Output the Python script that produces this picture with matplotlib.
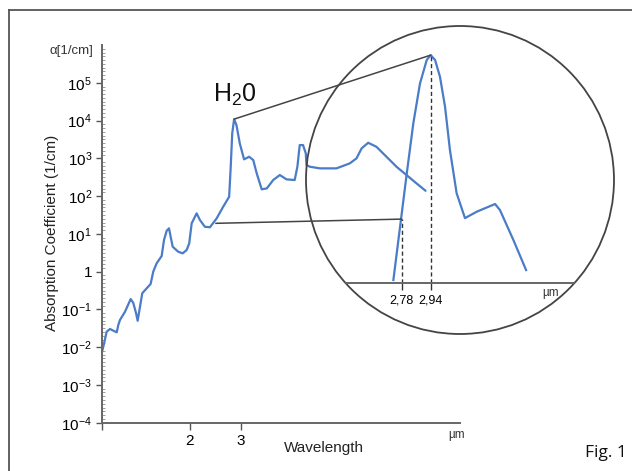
import numpy as np
import matplotlib
matplotlib.use('Agg')
import matplotlib.pyplot as plt
from matplotlib.patches import Circle, ConnectionPatch
from matplotlib.lines import Line2D
from matplotlib.ticker import FixedLocator, NullLocator, NullFormatter

plt.rcParams['font.family'] = ['Liberation Sans', 'DejaVu Sans']
plt.rcParams['mathtext.fontset'] = 'custom'
plt.rcParams['mathtext.rm'] = 'Liberation Sans'
plt.rcParams['mathtext.it'] = 'Liberation Sans:italic'

# main spectrum (wavelength in um, absorption coefficient in 1/cm)
wl_main = [1.000, 1.013, 1.040, 1.068, 1.096, 1.126, 1.140, 1.155, 1.202, 1.257,
           1.283, 1.311, 1.328, 1.353, 1.377, 1.426, 1.471, 1.502, 1.543, 1.605,
           1.635, 1.670, 1.701, 1.723, 1.751, 1.829, 1.894, 1.955, 1.995, 2.034,
           2.115, 2.171, 2.257, 2.349, 2.478, 2.608, 2.734, 2.768, 2.801, 2.843,
           2.896, 2.973, 3.075, 3.201, 3.306, 3.398, 3.535, 3.680, 3.870, 4.078,
           4.298, 4.585, 4.684, 4.771, 4.898, 5.005, 5.033, 5.170, 5.598, 6.378,
           7.086, 7.468, 7.776, 8.190, 8.74, 9.46, 10.24, 11.08, 11.99, 12.88]
alpha_main = [0.0070, 0.0103, 0.0257, 0.0303, 0.0273, 0.0247, 0.0386, 0.0524, 0.0868, 0.188,
              0.148, 0.080, 0.050, 0.118, 0.267, 0.361, 0.470, 1.0, 1.66, 2.59,
              6.86, 12.1, 14.0, 8.39, 4.56, 3.36, 3.05, 3.73, 5.61, 19.0,
              34.9, 23.2, 15.4, 14.9, 25.8, 52.2, 96, 598, 4580, 10900,
              7590, 2490, 938, 1100, 900, 400, 151, 160, 266, 361,
              277, 266, 598, 2240, 2240, 1350, 663, 598, 542, 542,
              736, 997, 1835, 2580, 2020, 1100, 598, 361, 217, 138]

# zoomed H2O band
wl_zoom = [2.734, 2.771, 2.808, 2.844, 2.881, 2.918, 2.94, 2.964, 2.991, 3.019,
           3.046, 3.083, 3.129, 3.194, 3.295, 3.322, 3.396, 3.466]
alpha_zoom = [0.012, 0.31, 8, 168, 1920, 7950, 10700, 7950, 2870, 461,
              33, 2.36, 0.52, 0.77, 1.23, 0.85, 0.137, 0.022]

y_ticks = [1e-4, 1e-3, 1e-2, 1e-1, 1, 1e1, 1e2, 1e3, 1e4, 1e5]
y_labels = ['10$^{-4}$', '10$^{-3}$', '10$^{-2}$', '10$^{-1}$', '1',
            '10$^{1}$', '10$^{2}$', '10$^{3}$', '10$^{4}$', '10$^{5}$']
x_ticks = [1, 2, 3]
x_labels = ['', '2', '3']
zoom_ticks = [2.78, 2.94]
zoom_labels = ['2,78', '2,94']
zoom_base = 0.01

main_peak = (2.843, 10900)
low_start = (2.46, 19)
zoom_peak = (2.94, 10700)
zoom_shoulder = (2.78, 0.49)

blue = '#4a7cc8'
grey = '#444444'

W, H = 632, 471
fig = plt.figure(figsize=(W / 100, H / 100), dpi=100)

# page frame (top + left only)
fig.add_artist(Line2D([8.5 / W, 1], [1 - 9.5 / H, 1 - 9.5 / H], transform=fig.transFigure,
                      color='#555555', lw=1.3))
fig.add_artist(Line2D([8.5 / W, 8.5 / W], [0, 1 - 9.5 / H], transform=fig.transFigure,
                      color='#555555', lw=1.3))

ax = fig.add_axes([101.7 / W, 1 - 422.7 / H, (460 - 101.7) / W, (422.7 - 45) / H])
ax.patch.set_alpha(0)
ax.set_xscale('log')
ax.set_yscale('log')
ax.set_xlim(1, 16.9)
ax.set_ylim(1e-4, 1e6)
for s in ['top', 'right']:
    ax.spines[s].set_visible(False)
for s in ['left', 'bottom']:
    ax.spines[s].set_color('#666666')
    ax.spines[s].set_linewidth(1.4)

ax.xaxis.set_major_locator(FixedLocator(x_ticks))
ax.set_xticklabels(x_labels)
ax.xaxis.set_minor_locator(NullLocator())
ax.yaxis.set_major_locator(FixedLocator(y_ticks))
ax.set_yticklabels(y_labels)
ax.yaxis.set_minor_locator(FixedLocator(10 ** np.arange(-4, 6, 0.1)))
ax.yaxis.set_minor_formatter(NullFormatter())
ax.tick_params(axis='x', which='major', direction='out', length=5, width=1, color='#555555',
               labelsize=11, pad=3)
ax.tick_params(axis='y', which='major', direction='out', length=4, width=1, color='#555555',
               labelsize=11, pad=3)
ax.tick_params(axis='y', which='minor', direction='in', length=2, width=0.5, color='#777777')

ax.plot(wl_main, alpha_main, color=blue, lw=1.6, solid_joinstyle='round', solid_capstyle='round')
ax.text(2.86, 4.7e4, 'H$_2$0', ha='center', va='center', fontsize=18, color='#111111')

fig.text(71 / W, 1 - 51 / H, 'α[1/cm]', ha='center', va='center', fontsize=9.5, color='#333333')
fig.text(52 / W, 1 - 232.5 / H, 'Absorption Coefficient (1/cm)', rotation=90,
         ha='center', va='center', fontsize=11, color='#222222')
fig.text(324 / W, 1 - 448 / H, 'Wavelength', ha='center', va='center', fontsize=11, color='#222222')
fig.text(457 / W, 1 - 435 / H, 'µm', ha='center', va='center', fontsize=8.5, color='#333333')
fig.text(585 / W, 1 - 453 / H, 'Fig. 1', ha='left', va='center', fontsize=12.5,
         family=['Open Sans', 'DejaVu Sans'], color='#111111')

# magnifier
ax_in = fig.add_axes([306 / W, 1 - 334 / H, 308 / W, 308 / H])
ax_in.patch.set_visible(False)
ax_in.set_yscale('log')
ax_in.set_xlim(2.252, 3.951)
ax_in.set_ylim(10 ** -3.35, 10 ** 4.80)
circ = Circle((0.5, 0.5), 0.5, transform=ax_in.transAxes, fill=False, ec=grey, lw=1.3,
              clip_on=False)
ax_in.add_patch(circ)
for s in ['top', 'right', 'left']:
    ax_in.spines[s].set_visible(False)
ax_in.spines['bottom'].set_position(('data', zoom_base))
ax_in.spines['bottom'].set_color('#666666')
ax_in.spines['bottom'].set_linewidth(1.4)
ax_in.spines['bottom'].set_clip_path(circ)
ax_in.xaxis.set_major_locator(FixedLocator(zoom_ticks))
ax_in.set_xticklabels(zoom_labels)
ax_in.xaxis.set_minor_locator(NullLocator())
ax_in.tick_params(axis='x', direction='out', length=5, width=1, color='#333333',
                  labelsize=9, pad=3)
ax_in.tick_params(axis='y', which='both', left=False, labelleft=False)

ax_in.plot(wl_zoom, alpha_zoom, color=blue, lw=1.6, solid_joinstyle='round', clip_on=False)
ax_in.vlines([zoom_shoulder[0], zoom_peak[0]], zoom_base, [zoom_shoulder[1], zoom_peak[1]],
             colors='#333333', lw=1, linestyles=(0, (3, 2)))
ax_in.text(3.60, 10 ** -2.1, 'µm', ha='center', va='top', fontsize=8.5, color='#333333')

for a, b in [(main_peak, zoom_peak), (low_start, zoom_shoulder)]:
    con = ConnectionPatch(xyA=a, coordsA=ax.transData, xyB=b, coordsB=ax_in.transData,
                          color=grey, lw=1.1)
    fig.add_artist(con)

fig.savefig('out.png', dpi=100)
